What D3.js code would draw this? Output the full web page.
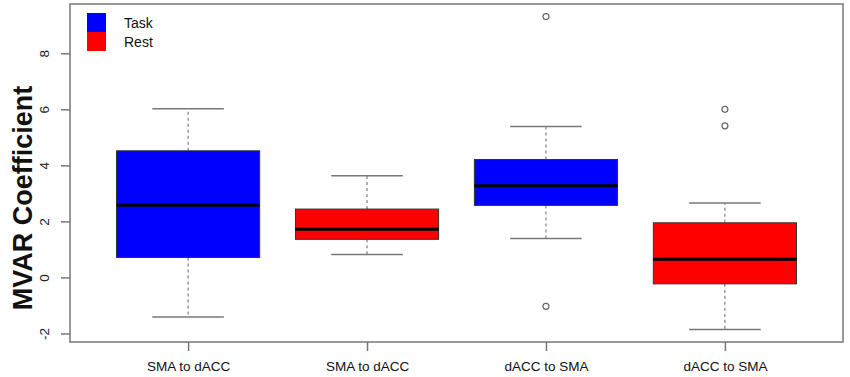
<!DOCTYPE html>
<html>
<head>
<meta charset="utf-8">
<script src="https://cdn.jsdelivr.net/npm/d3@7"></script>
<style>
  body { margin: 0; background: #fff; }
  text { font-family: "Liberation Sans", Arial, sans-serif; }
</style>
</head>
<body>
<div id="chart"></div>
<script>
// boxplot summaries
const categories = ["SMA to dACC", "SMA to dACC", "dACC to SMA", "dACC to SMA"];
const groups = ["Task", "Rest", "Task", "Rest"];
const lowWhisker = [-1.41, 0.82, 1.39, -1.86];
const q1 = [0.71, 1.36, 2.57, -0.23];
const medians = [2.58, 1.72, 3.27, 0.65];
const q3 = [4.52, 2.44, 4.21, 1.95];
const highWhisker = [6.02, 3.63, 5.39, 2.66];
const outliers = [[], [], [9.31, -1.03], [6.0, 5.41]];
const yTicks = [-2, 0, 2, 4, 6, 8];
const legendKeys = ["Task", "Rest"];

const W = 850, H = 377;
const margin = { top: 4, right: 7, bottom: 35, left: 70 };

const svg = d3.select("#chart").append("svg")
  .attr("width", W).attr("height", H);

const color = d3.scaleOrdinal().domain(["Task", "Rest"]).range(["#0000ff", "#ff0000"]);

// R style: at = 1..n, xlim 0.5..n+0.5 with 4% padding
const x = d3.scaleLinear()
  .domain([0.34, 4.66])
  .range([margin.left, W - margin.right]);
const y = d3.scaleLinear()
  .domain([-2.305, 9.76])
  .range([H - margin.bottom, margin.top]);

const boxW = x(1.8) - x(1);
const capW = boxW / 2;
const axisCol = "#777";

const data = categories.map((c, i) => ({
  cat: c, grp: groups[i], lo: lowWhisker[i], q1: q1[i], med: medians[i],
  q3: q3[i], hi: highWhisker[i], out: outliers[i], pos: i + 1
}));

const g = svg.append("g");
const box = g.selectAll("g.box").data(data).enter().append("g").attr("class", "box");

// whiskers (dashed)
box.append("line")
  .attr("x1", d => x(d.pos)).attr("x2", d => x(d.pos))
  .attr("y1", d => y(d.q3)).attr("y2", d => y(d.hi))
  .attr("stroke", "#666").attr("stroke-dasharray", "3,3");
box.append("line")
  .attr("x1", d => x(d.pos)).attr("x2", d => x(d.pos))
  .attr("y1", d => y(d.q1)).attr("y2", d => y(d.lo))
  .attr("stroke", "#666").attr("stroke-dasharray", "3,3");
// caps
box.append("line")
  .attr("x1", d => x(d.pos) - capW / 2).attr("x2", d => x(d.pos) + capW / 2)
  .attr("y1", d => y(d.hi)).attr("y2", d => y(d.hi))
  .attr("stroke", axisCol).attr("stroke-width", 1.5);
box.append("line")
  .attr("x1", d => x(d.pos) - capW / 2).attr("x2", d => x(d.pos) + capW / 2)
  .attr("y1", d => y(d.lo)).attr("y2", d => y(d.lo))
  .attr("stroke", axisCol).attr("stroke-width", 1.5);
// box
box.append("rect")
  .attr("x", d => x(d.pos) - boxW / 2)
  .attr("y", d => y(d.q3))
  .attr("width", boxW)
  .attr("height", d => y(d.q1) - y(d.q3))
  .attr("fill", d => color(d.grp))
  .attr("stroke", "#333").attr("stroke-width", 1);
// median
box.append("line")
  .attr("x1", d => x(d.pos) - boxW / 2).attr("x2", d => x(d.pos) + boxW / 2)
  .attr("y1", d => y(d.med)).attr("y2", d => y(d.med))
  .attr("stroke", "#000").attr("stroke-width", 3);
// outliers
box.selectAll("circle").data(d => d.out.map(v => ({ v: v, pos: d.pos }))).enter()
  .append("circle")
  .attr("cx", d => x(d.pos)).attr("cy", d => y(d.v)).attr("r", 3)
  .attr("fill", "none").attr("stroke", "#666").attr("stroke-width", 1.2);

// frame
svg.append("rect")
  .attr("x", margin.left).attr("y", margin.top)
  .attr("width", W - margin.left - margin.right)
  .attr("height", H - margin.top - margin.bottom)
  .attr("fill", "none").attr("stroke", axisCol).attr("stroke-width", 1.5);

// y axis
const yAxis = svg.append("g")
  .attr("transform", `translate(${margin.left},0)`)
  .call(d3.axisLeft(y).tickValues(yTicks).tickSize(9).tickSizeOuter(0).tickPadding(0));
yAxis.select(".domain").remove();
yAxis.selectAll(".tick line").attr("stroke", axisCol).attr("stroke-width", 1.5);
yAxis.selectAll(".tick text")
  .attr("transform", "rotate(-90)")
  .attr("x", 0).attr("y", -26)
  .attr("dy", "0.35em")
  .attr("text-anchor", "middle")
  .attr("font-size", 13.5).attr("fill", "#222")
  .text(d => d);

// x axis
const xAxis = svg.append("g")
  .attr("transform", `translate(0,${H - margin.bottom})`)
  .call(d3.axisBottom(x).tickValues([1, 2, 3, 4]).tickSize(9).tickSizeOuter(0)
    .tickFormat((d, i) => categories[i]).tickPadding(10));
xAxis.select(".domain").remove();
xAxis.selectAll(".tick line").attr("stroke", axisCol).attr("stroke-width", 1.5);
xAxis.selectAll(".tick text").attr("font-size", 13.5).attr("fill", "#111");

// y title
svg.append("text")
  .attr("transform", `translate(32,${(margin.top + H - margin.bottom) / 2 + 25}) rotate(-90)`)
  .attr("text-anchor", "middle")
  .attr("font-size", 27).attr("font-weight", "bold").attr("fill", "#111")
  .text("MVAR Coefficient");

// legend
const leg = svg.append("g").attr("transform", "translate(87,13)");
leg.selectAll("rect").data(legendKeys).enter().append("rect")
  .attr("x", 0).attr("y", (d, i) => i * 19)
  .attr("width", 19).attr("height", 19)
  .attr("fill", d => color(d));
leg.selectAll("text").data(legendKeys).enter().append("text")
  .attr("x", 37).attr("y", (d, i) => i * 19 + 15)
  .attr("font-size", 14).attr("fill", "#111")
  .text(d => d);
</script>
</body>
</html>
